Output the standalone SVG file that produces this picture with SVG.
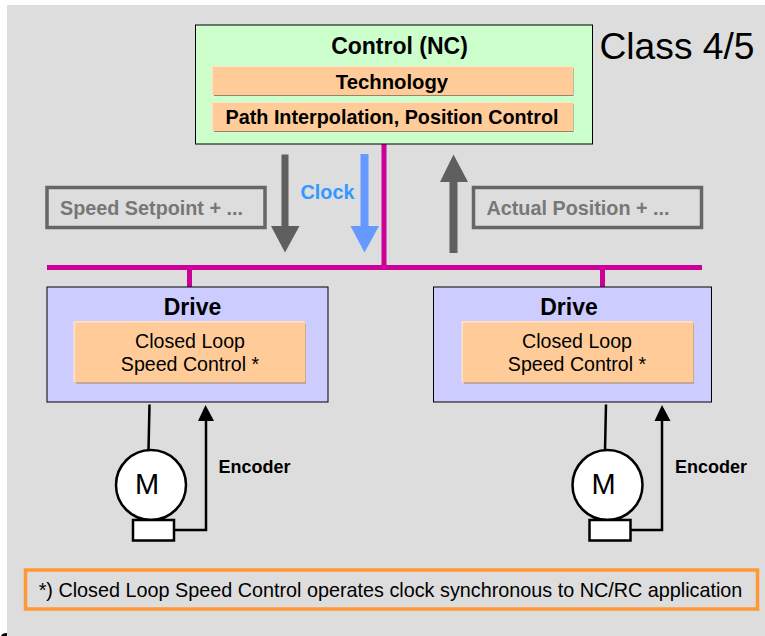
<svg xmlns="http://www.w3.org/2000/svg" width="765" height="636" viewBox="0 0 765 636">
<style>
text{font-family:"Liberation Sans",Arial,sans-serif;text-anchor:middle;fill:#000}
.b{font-weight:bold}
.box{stroke:#000;stroke-width:1}
.org{fill:#ffcc99}
.hi{fill:#ffe2c6}
.sh{fill:#9a8468}
.bus{stroke:#cc0099;stroke-width:5;fill:none}
.gb{fill:none;stroke:#666;stroke-width:3.500}
.gt{fill:#777;font-weight:bold;font-size:19.800px}
.w{fill:#fff;stroke:#000;stroke-width:2.500}
.k{fill:none;stroke:#000;stroke-width:2.500}
</style>
<rect x="7" y="5" width="758" height="631" fill="#ddd"/>
<path d="M1 636Q2 633 7 633V636Z"/>
<g id="connectors">
<path class="bus" d="M47 267.500H702M384 144V267M189.500 267V287M602.500 267V287"/>
<path fill="#5f5f5f" d="M281.500 154.500H288.500V226H299.500L285 252.500L271 226H281.500Z"/>
<path fill="#6699ff" d="M360.500 154H368.500V226H379L364.500 252.500L350.500 226H360.500Z"/>
<path fill="#5f5f5f" d="M449.500 253H457.500V182H468L453.500 154.500L440 182H449.500Z"/>
<path class="k" d="M149.500 404.500L148.500 450"/>
<path class="k" d="M174 530H206V418"/>
<path d="M198 421L205.500 405L214 421Z"/>
<path class="k" d="M606 404.500L605 450"/>
<path class="k" d="M630 530H662V418"/>
<path d="M654.500 421L662 405L670.500 421Z"/>
</g>
<g id="control">
<rect class="box" x="195.500" y="25" width="397" height="119" fill="#ccffcc"/>
<text class="b" x="399.500" y="54" font-size="23">Control (NC)</text>
<rect class="hi" x="211.500" y="66" width="361" height="29"/>
<rect class="sh" x="214" y="68" width="359.500" height="28"/>
<rect class="org" x="213" y="67" width="360" height="28"/>
<text class="b" x="392" y="89" font-size="20.300">Technology</text>
<rect class="hi" x="211.500" y="102" width="361" height="29"/>
<rect class="sh" x="214" y="104" width="359.500" height="28"/>
<rect class="org" x="213" y="103" width="360" height="28"/>
<text class="b" x="392" y="124" font-size="19.800">Path Interpolation, Position Control</text>
</g>
<text id="class-label" x="677" y="59" font-size="37.200">Class 4/5</text>
<g id="speed-setpoint"><rect class="gb" x="47" y="187.500" width="218" height="40"/><text class="gt" x="151.500" y="215">Speed Setpoint + ...</text></g>
<g id="clock"><text class="b" x="327.500" y="199" font-size="19.800" style="fill:#3399ff">Clock</text></g>
<g id="actual-position"><rect class="gb" x="473.500" y="187.500" width="228" height="40"/><text class="gt" x="578" y="215">Actual Position + ...</text></g>
<g id="drive-1">
<rect class="box" x="47" y="287" width="281" height="115" fill="#ccccff"/>
<text class="b" x="192.500" y="315" font-size="23">Drive</text>
<rect class="hi" x="73.500" y="321" width="231" height="61"/>
<rect class="sh" x="76" y="323.500" width="230" height="60"/>
<rect class="org" x="75" y="322.500" width="230.500" height="60"/>
<text x="190" y="348" font-size="19.600">Closed Loop</text>
<text x="190" y="371" font-size="19.600">Speed Control *</text>
</g>
<g id="drive-2">
<rect class="box" x="433.500" y="287" width="278" height="115" fill="#ccccff"/>
<text class="b" x="569" y="315" font-size="23">Drive</text>
<rect class="hi" x="461.500" y="321" width="231" height="61"/>
<rect class="sh" x="464" y="323.500" width="230" height="60"/>
<rect class="org" x="463" y="322.500" width="230.500" height="60"/>
<text x="577" y="348" font-size="19.600">Closed Loop</text>
<text x="577" y="371" font-size="19.600">Speed Control *</text>
</g>
<g id="motor-1">
<circle class="w" cx="151" cy="485" r="35"/>
<text x="147" y="494" font-size="29">M</text>
<rect class="w" x="133" y="520" width="41" height="20.500"/>
</g>
<text id="encoder-1" class="b" x="254.500" y="473" font-size="18">Encoder</text>
<g id="motor-2">
<circle class="w" cx="607.500" cy="485" r="35"/>
<text x="603.500" y="494" font-size="29">M</text>
<rect class="w" x="589.500" y="520" width="41" height="20.500"/>
</g>
<text id="encoder-2" class="b" x="711" y="473" font-size="18">Encoder</text>
<g id="note">
<rect x="25.500" y="570" width="732" height="39" fill="none" stroke="#ff9933" stroke-width="3.500"/>
<text x="390.500" y="597" font-size="19.800">*) Closed Loop Speed Control operates clock synchronous to NC/RC application</text>
</g>
</svg>
